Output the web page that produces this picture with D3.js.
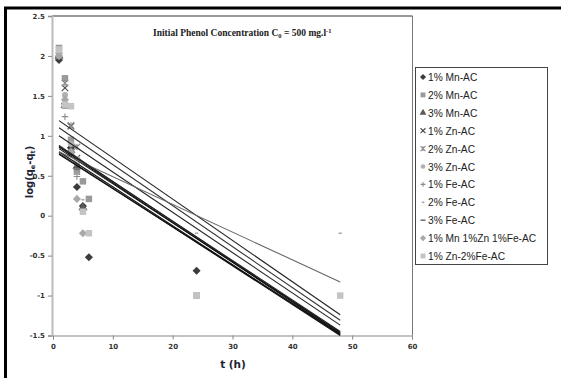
<!DOCTYPE html>
<html>
<head>
<meta charset="utf-8">
<title>Phenol kinetics</title>
<style>
body { margin: 0; background: #fff; }
.tick text { font-family: "DejaVu Sans", sans-serif; font-size: 7px; font-weight: bold; fill: #333; }
.legend text { font-family: "Liberation Sans", Arial, sans-serif; font-size: 10.2px; fill: #222; }
</style>
</head>
<body>
<script src="https://cdn.jsdelivr.net/npm/d3@7"></script>
<script>

var width = 561, height = 378;

// sampling times (h)
var times = [1, 2, 3, 4, 5, 6, 24, 48];

var seriesNames = ["1% Mn-AC", "2% Mn-AC", "3% Mn-AC", "1% Zn-AC", "2% Zn-AC", "3% Zn-AC",
                   "1% Fe-AC", "2% Fe-AC", "3% Fe-AC", "1% Mn 1%Zn 1%Fe-AC", "1% Zn-2%Fe-AC"];

// log(qe-qt), one array per series (null = no point)
var mn1    = [1.95, 1.40, 0.85, 0.36, 0.12, -0.52, -0.69, null];
var mn2    = [2.10, 1.72, 0.95, 0.55, 0.43, 0.21, -1.00, null];
var mn3    = [2.00, 1.38, 0.82, 0.62, 0.10, null, null, null];
var zn1    = [2.00, 1.60, 1.12, 0.72, null, null, null, null];
var zn2    = [2.00, 1.66, 1.13, 0.86, null, null, null, null];
var zn3    = [2.01, 1.51, 0.90, 0.66, null, null, null, null];
var fe1    = [2.00, 1.24, 0.78, 0.49, null, null, null, null];
var fe2    = [2.00, 1.42, 0.80, 0.52, 0.20, null, -0.22, -0.22];
var fe3    = [2.00, 1.35, 0.76, 0.58, null, null, null, null];
var mnznfe = [2.00, 1.45, 0.80, 0.21, -0.22, null, null, null];
var zn2fe  = [2.08, 1.39, 1.37, 0.70, 0.05, -0.22, -1.00, -1.00];

// linear trendlines: value at t = 1 and at t = 48
var fitStart = [0.86, 0.88, 0.80, 1.19, 1.10, 0.84, 1.00, 0.80, 0.78, 0.87, 0.77];
var fitEnd   = [-1.48, -1.47, -1.49, -1.24, -1.31, -1.46, -1.37, -0.83, -1.50, -1.45, -1.48];

var xTicks = [0, 10, 20, 30, 40, 50, 60];
var yTicks = [-1.5, -1, -0.5, 0, 0.5, 1, 1.5, 2, 2.5];

var allValues = [mn1, mn2, mn3, zn1, zn2, zn3, fe1, fe2, fe3, mnznfe, zn2fe];

var markers = ["diamond", "square", "triangle", "x", "star", "circle", "plus", "dash", "longdash", "diamond", "square"];
var markerColors = ["#3c3c3c", "#9a9a9a", "#5a5a5a", "#4a4a4a", "#8a8a8a", "#b0b0b0", "#8c8c8c", "#aaaaaa", "#777777", "#a8a8a8", "#c4c4c4"];
var lineColors = ["#111", "#222", "#111", "#222", "#333", "#111", "#222", "#666", "#111", "#222", "#111"];

var svg = d3.select("body").append("svg")
    .attr("width", width)
    .attr("height", height);

// outer frame (top and left)
svg.append("line").attr("x1", 4).attr("x2", width).attr("y1", 8).attr("y2", 8)
    .attr("stroke", "#000").attr("stroke-width", 3);
svg.append("line").attr("x1", 5.5).attr("x2", 5.5).attr("y1", 7).attr("y2", height)
    .attr("stroke", "#000").attr("stroke-width", 3);

var x = d3.scaleLinear().domain([0, 60]).range([53, 412]);
var y = d3.scaleLinear().domain([-1.5, 2.5]).range([335.5, 16]);

// plot frame top / right
svg.append("line").attr("x1", 52).attr("x2", 412.5).attr("y1", 16).attr("y2", 16)
    .attr("stroke", "#333").attr("stroke-width", 1);
svg.append("line").attr("x1", 412.5).attr("x2", 412.5).attr("y1", 16).attr("y2", 335.5)
    .attr("stroke", "#777").attr("stroke-width", 1);

var yAxis = svg.append("g")
    .attr("transform", "translate(52,0)")
    .call(d3.axisLeft(y).tickValues(yTicks).tickSize(4).tickPadding(3)
        .tickFormat(function(d) { return String(d); }));
yAxis.select(".domain").attr("stroke", "#bbb").attr("stroke-width", 2);
yAxis.selectAll(".tick line").attr("stroke", "#888");

var xAxis = svg.append("g")
    .attr("transform", "translate(0,335.5)")
    .call(d3.axisBottom(x).tickValues(xTicks).tickSize(4).tickPadding(5));
xAxis.select(".domain").attr("stroke", "#888");
xAxis.selectAll(".tick line").attr("stroke", "#888");

// axis titles
svg.append("text")
    .attr("x", 233).attr("y", 368)
    .attr("text-anchor", "middle")
    .style("font-family", "'DejaVu Sans', sans-serif")
    .style("font-size", "10.5px").style("font-weight", "bold").style("fill", "#1d2433")
    .text("t (h)");

var yt = svg.append("text")
    .attr("transform", "translate(33,172) rotate(-90)")
    .attr("text-anchor", "middle")
    .style("font-family", "'DejaVu Sans', sans-serif")
    .style("font-size", "10px").style("font-weight", "bold").style("fill", "#1d2433");
yt.append("tspan").text("log(q");
yt.append("tspan").attr("dy", 2).style("font-size", "6.5px").text("e");
yt.append("tspan").attr("dy", -2).text("-q");
yt.append("tspan").attr("dy", 2).style("font-size", "6.5px").text("t");
yt.append("tspan").attr("dy", -2).text(")");

// chart title
var tt = svg.append("text")
    .attr("x", 153).attr("y", 36)
    .style("font-family", "'Liberation Serif', 'Times New Roman', serif")
    .style("font-size", "9.5px").style("font-weight", "bold").style("fill", "#222");
tt.append("tspan").text("Initial Phenol Concentration C");
tt.append("tspan").attr("dy", 2).style("font-size", "6.5px").text("0");
tt.append("tspan").attr("dy", -2).text(" = 500 mg.l");
tt.append("tspan").attr("dy", -3).style("font-size", "6.5px").text("-1");

function drawMarker(g, type, color, s) {
    var r = Math.sqrt(s) / 2;
    if (type === "diamond") {
        var q = r * 1.25;
        g.append("path").attr("d", "M0," + (-q) + "L" + q + ",0L0," + q + "L" + (-q) + ",0Z").attr("fill", color);
    } else if (type === "square") {
        g.append("rect").attr("x", -r).attr("y", -r).attr("width", 2 * r).attr("height", 2 * r).attr("fill", color);
    } else if (type === "triangle") {
        g.append("path").attr("d", d3.symbol(d3.symbolTriangle, s * 0.85)()).attr("fill", color);
    } else if (type === "circle") {
        g.append("circle").attr("r", r * 0.95).attr("fill", color);
    } else if (type === "x") {
        g.append("path").attr("d", "M" + (-r) + "," + (-r) + "L" + r + "," + r + "M" + (-r) + "," + r + "L" + r + "," + (-r))
            .attr("stroke", color).attr("stroke-width", 1.1).attr("fill", "none");
    } else if (type === "star") {
        g.append("path").attr("d", "M" + (-r) + "," + (-r) + "L" + r + "," + r + "M" + (-r) + "," + r + "L" + r + "," + (-r) + "M0," + (-r) + "L0," + r)
            .attr("stroke", color).attr("stroke-width", 1.1).attr("fill", "none");
    } else if (type === "plus") {
        g.append("path").attr("d", "M" + (-r) + ",0L" + r + ",0M0," + (-r) + "L0," + r)
            .attr("stroke", color).attr("stroke-width", 1.1).attr("fill", "none");
    } else if (type === "dash") {
        g.append("path").attr("d", "M" + (-r * 0.5) + ",0L" + (r * 0.5) + ",0")
            .attr("stroke", color).attr("stroke-width", 1.6).attr("fill", "none");
    } else if (type === "longdash") {
        g.append("path").attr("d", "M" + (-r) + ",0L" + r + ",0")
            .attr("stroke", color).attr("stroke-width", 1.6).attr("fill", "none");
    }
}

// data points
var pts = svg.append("g").attr("id", "points");
allValues.forEach(function(vals, si) {
    vals.forEach(function(v, i) {
        if (v === null) return;
        var g = pts.append("g").attr("transform", "translate(" + x(times[i]) + "," + y(v) + ")");
        drawMarker(g, markers[si], markerColors[si], 42);
    });
});

// trendlines
var trends = svg.append("g").attr("id", "trendlines");
trends.selectAll("line")
    .data(seriesNames)
  .enter().append("line")
    .attr("x1", x(1)).attr("x2", x(48))
    .attr("y1", function(d, i) { return y(fitStart[i]); })
    .attr("y2", function(d, i) { return y(fitEnd[i]); })
    .attr("stroke", function(d, i) { return lineColors[i]; })
    .attr("stroke-width", 1.1);

// legend
var legend = svg.append("g").attr("class", "legend");
legend.append("rect")
    .attr("x", 415.5).attr("y", 67.5).attr("width", 132).attr("height", 197)
    .attr("fill", "#fff").attr("stroke", "#444").attr("stroke-width", 1);

seriesNames.forEach(function(name, i) {
    var ly = 77 + i * 17.9;
    var g = legend.append("g").attr("transform", "translate(423," + ly + ")");
    drawMarker(g, markers[i], markerColors[i], 24);
    legend.append("text").attr("x", 428).attr("y", ly + 4).text(name);
});

</script>
</body>
</html>
